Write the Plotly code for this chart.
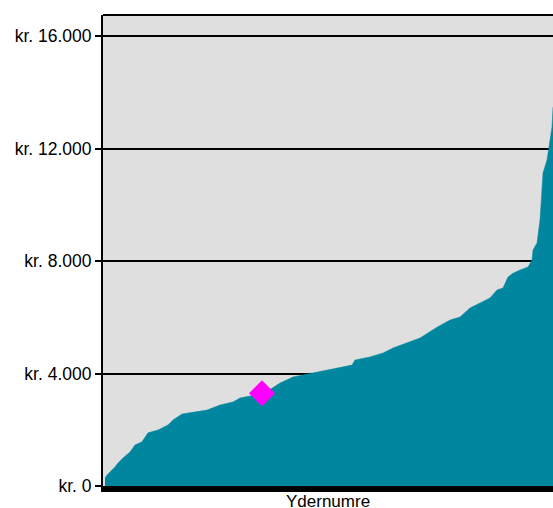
import plotly.graph_objects as go

# Data (rank of "ydernummer" vs. amount in kr.)
ranks = [1, 3, 11, 14, 19, 26, 31, 38, 44, 54, 64, 69, 78, 89, 103, 116, 129, 136,
         146, 158, 168, 176, 189, 203, 216, 236, 248, 251, 266, 279, 289, 303, 316,
         333, 346, 356, 366, 376, 386, 393, 399, 404, 409, 416, 424, 428, 429, 433,
         436, 439, 443, 446, 448, 449]
values = [280, 390, 680, 820, 1000, 1210, 1460, 1570, 1890, 1990, 2170, 2350, 2560,
          2630, 2700, 2880, 2990, 3130, 3200, 3290, 3480, 3660, 3880, 3980, 4050,
          4200, 4300, 4480, 4590, 4730, 4910, 5090, 5260, 5650, 5900, 6010, 6330,
          6510, 6690, 6970, 7040, 7430, 7570, 7680, 7790, 8040, 8390, 8640, 9460,
          11130, 11590, 12300, 12770, 13480]

marker_rank = [158]
marker_value = [3300]

tick_values = [0, 4000, 8000, 12000, 16000]
tick_labels = ["kr. 0", "kr. 4.000", "kr. 8.000", "kr. 12.000", "kr. 16.000"]
x_title = "Ydernumre"

TEAL = "#00869F"
FONT = "Liberation Sans, Arial, sans-serif"

fig = go.Figure()
fig.add_trace(go.Scatter(
    x=ranks, y=values, mode="lines", fill="tozeroy",
    line=dict(color=TEAL, width=0.5), fillcolor=TEAL,
    hoverinfo="skip", showlegend=False,
))
fig.add_trace(go.Scatter(
    x=marker_rank, y=marker_value, mode="markers",
    marker=dict(symbol="diamond", size=20, color="#FF00FF"),
    showlegend=False,
))

fig.update_layout(
    width=553, height=508,
    margin=dict(l=103, r=0, t=15, b=22, pad=0),
    paper_bgcolor="white", plot_bgcolor="#DFDFDF",
    font=dict(family=FONT, size=17.5, color="black"),
    xaxis=dict(range=[-1, 449], showgrid=False, zeroline=False,
               showticklabels=False, ticks="",
               showline=True, linecolor="black", linewidth=6),
    yaxis=dict(range=[0, 16750], tickvals=tick_values, ticktext=tick_labels,
               showgrid=True, gridcolor="black", gridwidth=2, zeroline=False,
               ticks="outside", ticklen=6, tickwidth=2, tickcolor="black",
               showline=True, linecolor="black", linewidth=2,
               tickfont=dict(family=FONT, size=17.5, color="black")),
    shapes=[dict(type="line", xref="paper", yref="paper", x0=0, x1=1, y0=1, y1=1,
                 line=dict(color="black", width=2))],
    annotations=[dict(text=x_title, xref="paper", yref="paper", x=0.5, y=0,
                      yshift=-4, yanchor="top", showarrow=False,
                      font=dict(family=FONT, size=17, color="black"))],
)

fig.write_html(
    "out.html",
    config={"displayModeBar": False},
    post_script="document.body.style.margin='0';document.body.style.overflow='hidden';",
)
